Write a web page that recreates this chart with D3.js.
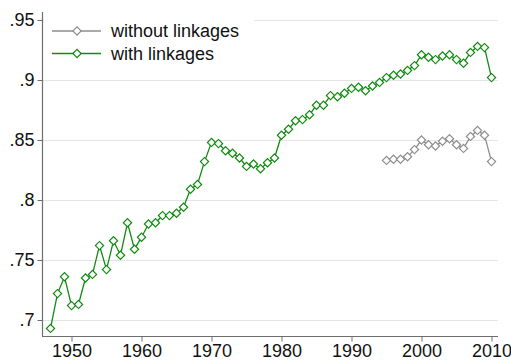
<!DOCTYPE html>
<html>
<head>
<meta charset="utf-8">
<script src="https://cdn.jsdelivr.net/npm/d3@7"></script>
<style>
  html, body { margin: 0; padding: 0; background: #fff; }
  svg { display: block; font-family: "Liberation Sans", Arial, Helvetica, sans-serif; }
</style>
</head>
<body>
<svg id="chart" width="511" height="360"></svg>
<script>
// Years covered by each series
const yearsWith = d3.range(1947, 2011);
const yearsWithout = d3.range(1995, 2011);

// Share with linkages, 1947-2010
const withLinkages = [
  .693, .722, .736, .712, .713, .735, .738, .762, .742, .766,
  .754, .781, .759, .769, .780, .781, .787, .787, .789, .794,
  .809, .813, .832, .848, .847, .841, .839, .835, .828, .830,
  .826, .831, .835, .854, .859, .866, .867, .871, .879, .879,
  .887, .886, .889, .893, .894, .891, .895, .898, .902, .904,
  .905, .908, .912, .921, .919, .917, .920, .921, .917, .914,
  .923, .928, .927, .902
];

// Share without linkages, 1995-2010
const withoutLinkages = [
  .833, .834, .834, .836, .842, .850, .846, .845,
  .849, .851, .846, .843, .853, .858, .854, .832
];

const xTicks = [1950, 1960, 1970, 1980, 1990, 2000, 2010];
const yTicks = [.7, .75, .8, .85, .9, .95];
const legendLabels = ["without linkages", "with linkages"];

const GREEN = "#118a11";
const GRAY = "#8e8e8e";

const svg = d3.select("#chart");
const plotLeft = 42, plotRight = 498, plotTop = 12, plotBottom = 336;

const x = d3.scaleLinear().domain([1950, 2010]).range([71.5, 491.5]);
const y = d3.scaleLinear().domain([.7, .95]).range([320, 20]);

const fmt = v => String(+v.toFixed(2)).replace(/^0/, "");

// horizontal gridlines
svg.append("g")
  .selectAll("line")
  .data(yTicks)
  .join("line")
  .attr("x1", plotLeft + 1).attr("x2", plotRight)
  .attr("y1", d => Math.round(y(d)) + 0.5).attr("y2", d => Math.round(y(d)) + 0.5)
  .attr("stroke", "#e4e4e4").attr("stroke-width", 1);

// y axis
const yAxis = svg.append("g")
  .attr("transform", `translate(${plotLeft + 0.5},0)`)
  .call(d3.axisLeft(y).tickValues(yTicks).tickFormat(fmt).tickSize(5).tickPadding(3).tickSizeOuter(0));
yAxis.select(".domain").attr("d", `M0,${plotTop}V${plotBottom}`);

// x axis
const xAxis = svg.append("g")
  .attr("transform", `translate(0,${plotBottom + 0.5})`)
  .call(d3.axisBottom(x).tickValues(xTicks).tickFormat(d3.format("d")).tickSize(5).tickPadding(3).tickSizeOuter(0));
xAxis.select(".domain").attr("d", `M${plotLeft},0H${plotRight}`);

svg.selectAll(".domain").attr("stroke", "#6e6e6e").attr("stroke-width", 1.2);
svg.selectAll(".tick line").attr("stroke", "#6e6e6e").attr("stroke-width", 1);
svg.selectAll(".tick text")
  .attr("font-size", 18)
  .attr("fill", "#111")
  .attr("font-family", "'Liberation Sans', Arial, Helvetica, sans-serif");

// diamond marker symbol
const diamond = d3.symbol().type(d3.symbolSquare).size(34)();

function drawSeries(years, values, color) {
  const pts = years.map((yr, i) => [yr, values[i]]);
  const g = svg.append("g");
  g.append("path")
    .datum(pts)
    .attr("fill", "none")
    .attr("stroke", color)
    .attr("stroke-width", 1.3)
    .attr("d", d3.line().x(d => x(d[0])).y(d => y(d[1])));
  g.selectAll("path.mk")
    .data(pts)
    .join("path")
    .attr("class", "mk")
    .attr("d", diamond)
    .attr("transform", d => `translate(${x(d[0])},${y(d[1])}) rotate(45)`)
    .attr("fill", "#fff")
    .attr("stroke", color)
    .attr("stroke-width", 1.2);
}

drawSeries(yearsWithout, withoutLinkages, GRAY);
drawSeries(yearsWith, withLinkages, GREEN);

// legend
const legend = svg.append("g");
legend.append("rect")
  .attr("x", plotLeft + 2).attr("y", 13)
  .attr("width", 210).attr("height", 55)
  .attr("fill", "#fff");
const legendColors = [GRAY, GREEN];
legendLabels.forEach((label, i) => {
  const ly = 31 + i * 22.5;
  legend.append("line")
    .attr("x1", 52).attr("x2", 101)
    .attr("y1", ly).attr("y2", ly)
    .attr("stroke", legendColors[i]).attr("stroke-width", 1.3);
  legend.append("path")
    .attr("d", diamond)
    .attr("transform", `translate(77,${ly}) rotate(45)`)
    .attr("fill", "#fff")
    .attr("stroke", legendColors[i])
    .attr("stroke-width", 1.2);
  legend.append("text")
    .attr("x", 111).attr("y", ly)
    .attr("dy", "0.35em")
    .attr("font-size", 18)
    .attr("fill", "#111")
    .text(label);
});
</script>
</body>
</html>
